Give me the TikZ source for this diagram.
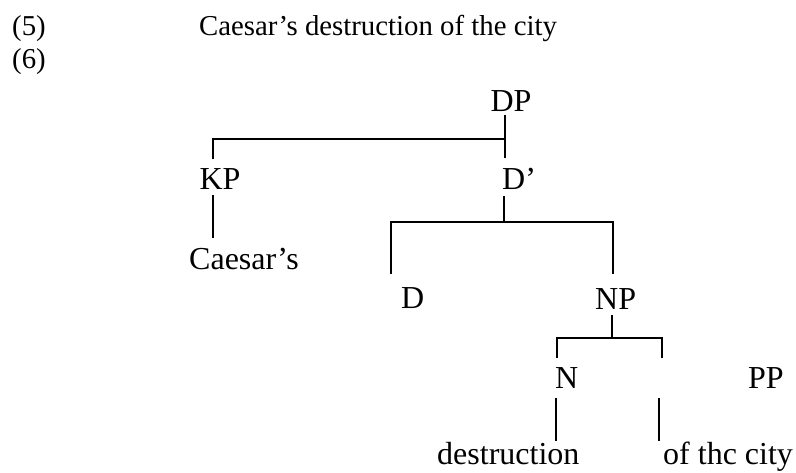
\documentclass[tikz,border=0pt]{standalone}
\usepackage{fontspec}
\setmainfont{Liberation Serif}
\begin{document}
\begin{tikzpicture}[x=1pt,y=-1pt,
  lbl/.style={inner sep=0pt,anchor=base,font=\fontsize{32}{38}\selectfont},
  lblw/.style={lbl,anchor=base west},
  head/.style={inner sep=0pt,anchor=base west,font=\fontsize{28.8}{34}\selectfont},
  branch/.style={line width=2.8pt,line join=miter,line cap=butt}]
\useasboundingbox (0,0) rectangle (796,472);
% header
\node[head] (ex5) at (12,35) {(5)};
\node[head] (title) at (199,35) {Caesar’s destruction of the city};
\node[head] (ex6) at (12,68) {(6)};
% labels
\node[lbl] (DP) at (511,111) {DP};
\node[lbl] (KP) at (220,189) {KP};
\node[lblw] (Dbar) at (502,189) {D’};
\node[lblw] (caesar) at (189,269) {Caesar’s};
\node[lblw] (D) at (401,308) {D};
\node[lblw] (NP) at (595,309) {NP};
\node[lblw] (N) at (555,388) {N};
\node[lblw] (PP) at (748,388) {PP};
\node[lblw] (destr) at (437,464.5) {destruction};
\node[lblw] (city) at (663,464.5) {of thc city};
% connector coordinates
\coordinate (dpT) at (505,115);
\coordinate (dpB) at (505,158);
\coordinate (b1L) at (213,139);
\coordinate (b1R) at (505,139);
\coordinate (kpU) at (213,159);
\coordinate (kpT) at (213,195);
\coordinate (kpB) at (213,238);
\coordinate (dbT) at (504,196);
\coordinate (dbB) at (504,222);
\coordinate (b2L) at (391,222);
\coordinate (b2R) at (613,222);
\coordinate (dU) at (391,274);
\coordinate (npU) at (613,274);
\coordinate (npT) at (612,315);
\coordinate (npB) at (612,338);
\coordinate (b3L) at (557,338);
\coordinate (b3R) at (662,338);
\coordinate (nU) at (557,358);
\coordinate (ppU) at (662,358);
\coordinate (nT) at (556,398);
\coordinate (nB) at (556,441);
\coordinate (pT) at (659,398);
\coordinate (pB) at (659,441);
% branches
\draw[branch] (dpT) -- (dpB);
\draw[branch] (kpU) -- (b1L) -- (b1R);
\draw[branch] (kpT) -- (kpB);
\draw[branch] (dbT) -- (dbB);
\draw[branch] (dU) -- (b2L) -- (b2R) -- (npU);
\draw[branch] (npT) -- (npB);
\draw[branch] (nU) -- (b3L) -- (b3R) -- (ppU);
\draw[branch] (nT) -- (nB);
\draw[branch] (pT) -- (pB);
\end{tikzpicture}
\end{document}
